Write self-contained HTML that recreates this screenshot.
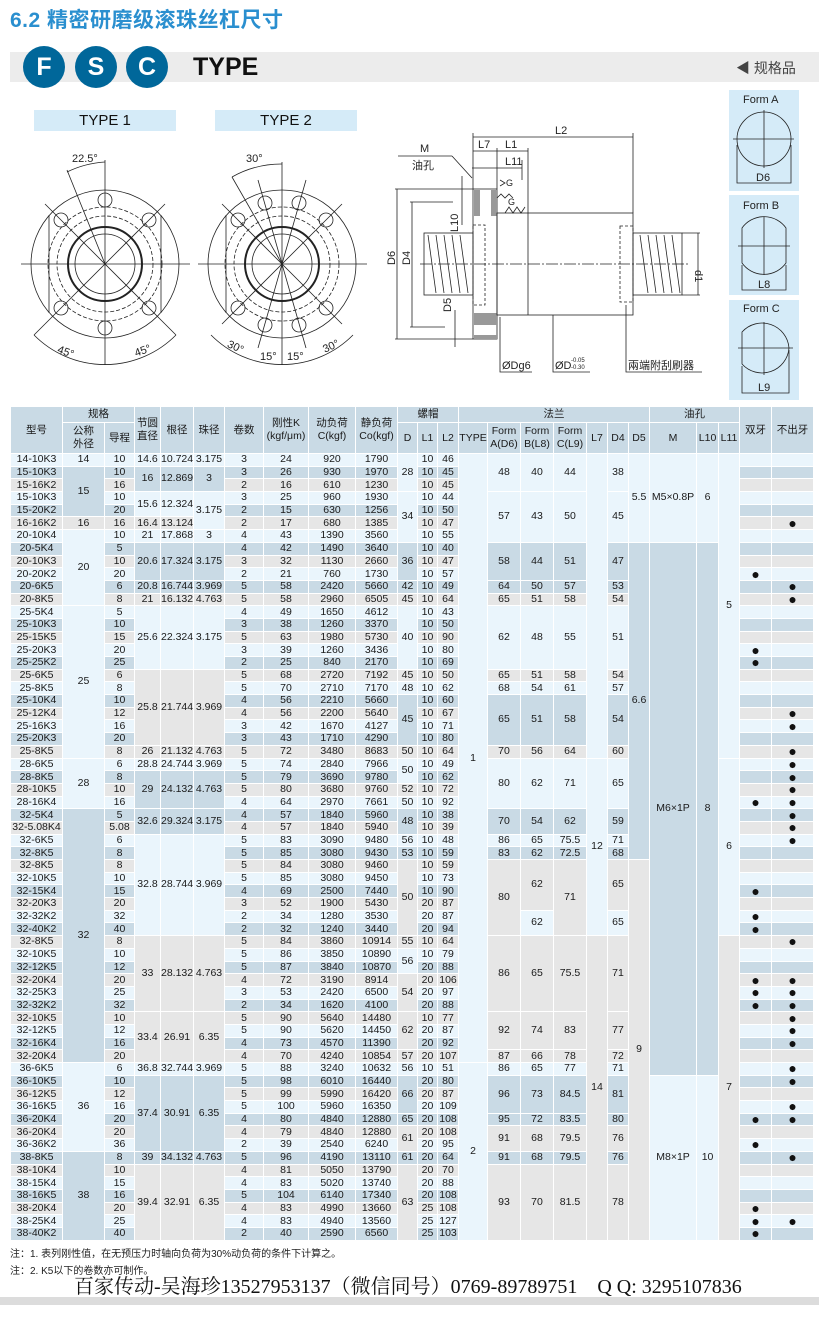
<!DOCTYPE html>
<html><head><meta charset="utf-8">
<style>
*{margin:0;padding:0;box-sizing:border-box}
body{width:819px;height:1322px;background:#fff;position:relative;overflow:hidden;font-family:"Liberation Sans","Noto Sans CJK SC",sans-serif;color:#222}
.abs{position:absolute}
#title{left:10px;top:4px;font-size:21px;font-weight:bold;color:#2a8fcf;letter-spacing:0.5px}
#bar{left:10px;top:52px;width:809px;height:30px;background:#ececec}
.cir{position:absolute;top:46px;width:42px;height:42px;border-radius:50%;background:#00679a;color:#fff;font-weight:bold;font-size:25px;text-align:center;line-height:42px}
#type{left:193px;top:53px;font-size:25px;font-weight:bold;color:#111}
#spec{left:736px;top:58px;font-size:14px;color:#444}
.tl{position:absolute;top:110px;width:142px;height:21px;background:#d5ebf8;text-align:center;font-size:15px;line-height:21px;color:#111}
table{position:absolute;left:10px;top:406px;width:803px;border-collapse:collapse;table-layout:fixed;font-family:"Liberation Sans Narrow","Liberation Sans","Noto Sans CJK SC",sans-serif;font-size:10.5px;color:#1a1a1a}
td,th{border:1px solid #fff;padding:0;text-align:center;vertical-align:middle;white-space:nowrap;overflow:hidden;line-height:11px}
th{background:#c9dae5;font-weight:normal;font-family:"Liberation Sans","Noto Sans CJK SC",sans-serif;font-size:10.5px;line-height:13px}
tbody tr{height:12.7px}
tr.a td{background:#eaf5fc}
tr.b td{background:#c9dae5}
tr.c td{background:#e6e6e6}
table td.L{background:#eaf5fc}
table td.B{background:#c9dae5}
table td.G{background:#e6e6e6}
td:nth-last-child(-n+2){font-size:14px;color:#111}
.note{left:10px;font-size:10px;color:#222}
#wm{left:74px;top:1270px;font-family:"Liberation Serif","Noto Serif CJK SC",serif;font-size:20px;color:#111;white-space:nowrap;transform:scaleX(1.0);transform-origin:left top}
#foot{left:0;top:1297px;width:819px;height:8px;background:#dcdcdc}
</style></head><body>
<div id="title" class="abs">6.2 精密研磨级滚珠丝杠尺寸</div>
<div id="bar" class="abs"></div>
<div class="cir" style="left:23px">F</div>
<div class="cir" style="left:75px">S</div>
<div class="cir" style="left:126px">C</div>
<div id="type" class="abs">TYPE</div>
<div id="spec" class="abs">◀ 规格品</div>
<div class="tl" style="left:34px">TYPE 1</div>
<div class="tl" style="left:215px">TYPE 2</div>

<svg class="abs" style="left:0;top:0" width="819" height="406" viewBox="0 0 819 406" font-family="Liberation Sans, Noto Sans CJK SC, sans-serif" font-size="11" fill="none" stroke="#222" stroke-width="0.8">
<g>
<circle cx="105" cy="264" r="74"/>
<circle cx="105" cy="264" r="57" stroke-dasharray="4 2"/>
<circle cx="105" cy="264" r="48" stroke-dasharray="4 2"/>
<circle cx="105" cy="264" r="37" stroke-width="2"/>
<circle cx="105" cy="264" r="30"/>
<circle cx="105" cy="200" r="7"/><circle cx="105" cy="328" r="7"/>
<circle cx="61" cy="220" r="7"/><circle cx="149" cy="220" r="7"/>
<circle cx="61" cy="308" r="7"/><circle cx="149" cy="308" r="7"/>
<line x1="49" y1="215" x2="49" y2="313"/><line x1="161" y1="215" x2="161" y2="313"/>
<line x1="21" y1="264" x2="190" y2="264"/><line x1="105" y1="160" x2="105" y2="365"/>
<line x1="45" y1="204" x2="165" y2="324"/><line x1="165" y1="204" x2="45" y2="324"/>
<line x1="105" y1="264" x2="67" y2="170"/>
<path d="M67 172 A100 100 0 0 1 105 162"/>
<path d="M34 335 A100 100 0 0 0 176 335"/>
<line x1="34" y1="335" x2="45" y2="324"/><line x1="176" y1="335" x2="165" y2="324"/>
</g>
<g>
<circle cx="282" cy="264" r="74"/>
<circle cx="282" cy="264" r="57" stroke-dasharray="4 2"/>
<circle cx="282" cy="264" r="48" stroke-dasharray="4 2"/>
<circle cx="282" cy="264" r="37" stroke-width="2"/>
<circle cx="282" cy="264" r="30"/>
<circle cx="265" cy="203" r="7"/><circle cx="299" cy="203" r="7"/>
<circle cx="265" cy="325" r="7"/><circle cx="299" cy="325" r="7"/>
<circle cx="238" cy="220" r="7"/><circle cx="326" cy="220" r="7"/>
<circle cx="238" cy="308" r="7"/><circle cx="326" cy="308" r="7"/>
<line x1="226" y1="215" x2="226" y2="313"/>
<line x1="198" y1="264" x2="367" y2="264"/><line x1="282" y1="162" x2="282" y2="365"/>
<line x1="222" y1="204" x2="342" y2="324"/><line x1="342" y1="204" x2="222" y2="324"/>
<line x1="258" y1="180" x2="306" y2="348"/><line x1="306" y1="180" x2="258" y2="348"/>
<line x1="282" y1="264" x2="232" y2="177"/>
<path d="M232 177 A100 100 0 0 1 282 164"/>
<path d="M211 335 A100 100 0 0 0 353 335"/>
</g>
<g fill="#222" stroke="none" font-size="11">
<text x="72" y="162">22.5°</text><text x="246" y="162">30°</text>
<text x="58" y="355" transform="rotate(20 65 350)">45°</text><text x="134" y="355" transform="rotate(-20 140 350)">45°</text>
<text x="228" y="350" transform="rotate(25 235 345)">30°</text><text x="260" y="360">15°</text><text x="287" y="360">15°</text><text x="322" y="350" transform="rotate(-25 330 345)">30°</text>
</g>
<g>
<rect x="473" y="189" width="24" height="150"/>
<rect x="474" y="190" width="6" height="26" fill="#999" stroke="none"/>
<rect x="491" y="190" width="6" height="26" fill="#999" stroke="none"/>
<rect x="474" y="313" width="23" height="12" fill="#999" stroke="none"/>
<rect x="474" y="335" width="23" height="4" fill="#999" stroke="none"/>
<rect x="497" y="213" width="136" height="102"/>
<line x1="528" y1="213" x2="528" y2="315"/>
<rect x="620" y="226" width="13" height="76" stroke-dasharray="3 2"/>
<rect x="473" y="225" width="12" height="80" stroke-dasharray="3 2"/>
<rect x="424" y="233" width="49" height="62"/>
<rect x="633" y="233" width="49" height="62"/>
<path d="M428 235 l8 58 M436 235 l8 58 M444 235 l8 58 M452 235 l8 58 M460 235 l8 58 M640 235 l8 58 M648 235 l8 58 M656 235 l8 58 M664 235 l8 58 M672 235 l8 58"/>
<line x1="420" y1="264" x2="690" y2="264" stroke-dasharray="12 2 2 2"/>
<line x1="473" y1="137" x2="633" y2="137"/><line x1="473" y1="133" x2="473" y2="189"/><line x1="633" y1="133" x2="633" y2="213"/>
<line x1="473" y1="151" x2="528" y2="151"/><line x1="497" y1="148" x2="497" y2="189"/><line x1="528" y1="148" x2="528" y2="213"/>
<line x1="472" y1="168" x2="522" y2="168"/><line x1="522" y1="160" x2="522" y2="180"/>
<line x1="397" y1="189" x2="397" y2="339"/><line x1="395" y1="189" x2="473" y2="189"/><line x1="395" y1="339" x2="473" y2="339"/>
<line x1="412" y1="202" x2="412" y2="327"/><line x1="410" y1="202" x2="453" y2="202"/><line x1="410" y1="327" x2="445" y2="327"/>
<line x1="698" y1="233" x2="698" y2="295"/><line x1="682" y1="233" x2="700" y2="233"/><line x1="682" y1="295" x2="700" y2="295"/>
<line x1="462" y1="176" x2="462" y2="225"/>
<line x1="455" y1="310" x2="455" y2="347"/>
<line x1="398" y1="156" x2="452" y2="156"/><line x1="452" y1="156" x2="472" y2="178"/>
<path d="M500 317 V372 H532 M553 315 V372 H590 M626 305 V372 H702"/>
<path d="M497 198 l4 -4 l4 4 l4 -4 l4 4 M500 180 l5 3 l-5 3 M505 213 l4 -6 l4 6 l4 -6 l4 6 l4 -6"/>
</g>
<g fill="#222" stroke="none" font-size="11">
<text x="555" y="134">L2</text><text x="478" y="148">L7</text><text x="505" y="148">L1</text><text x="505" y="165">L11</text>
<text x="420" y="152">M</text><text x="412" y="169">油孔</text>
<text x="506" y="186" font-size="9">G</text><text x="508" y="205" font-size="9">G</text>
<text transform="translate(395 265) rotate(-90)">D6</text><text transform="translate(410 265) rotate(-90)">D4</text>
<text transform="translate(458 232) rotate(-90)">L10</text><text transform="translate(451 312) rotate(-90)">D5</text>
<text transform="translate(695 270) rotate(90)">d1</text>
<text x="502" y="369">ØDg6</text><text x="555" y="369">ØD</text><text x="571" y="362" font-size="6">-0.05</text><text x="571" y="369" font-size="6">-0.30</text>
<text x="628" y="369">兩端附刮刷器</text>
</g>
<rect x="729" y="90" width="70" height="101" fill="#d5ebf8" stroke="none"/>
<rect x="729" y="195" width="70" height="100" fill="#d5ebf8" stroke="none"/>
<rect x="729" y="300" width="70" height="100" fill="#d5ebf8" stroke="none"/>
<g>
<circle cx="764" cy="139" r="27"/><line x1="733" y1="139" x2="794" y2="139"/><line x1="764" y1="110" x2="764" y2="168"/>
<path d="M737 145 V183 H791 V145"/>
<path d="M742 228 A27 27 0 0 1 786 228 V263 A27 27 0 0 1 742 263 Z"/><line x1="738" y1="246" x2="790" y2="246"/><line x1="764" y1="217" x2="764" y2="275"/>
<path d="M742 265 V290 H786 V265"/>
<path d="M742 332 A27 27 0 0 1 789 348 A27 27 0 0 1 742 364 Z"/><line x1="738" y1="348" x2="793" y2="348"/><line x1="764" y1="322" x2="764" y2="375"/>
<path d="M742 366 V393 H789 V350"/>
</g>
<g fill="#222" stroke="none" font-size="11">
<text x="743" y="103">Form A</text><text x="756" y="181">D6</text>
<text x="743" y="209">Form B</text><text x="758" y="288">L8</text>
<text x="743" y="312">Form C</text><text x="758" y="391">L9</text>
</g>
</svg>

<table>
<colgroup><col style="width:52px"><col style="width:42px"><col style="width:30px"><col style="width:26px"><col style="width:33px"><col style="width:31px"><col style="width:39px"><col style="width:45px"><col style="width:47px"><col style="width:42px"><col style="width:20px"><col style="width:20px"><col style="width:21px"><col style="width:29px"><col style="width:33px"><col style="width:33px"><col style="width:33px"><col style="width:21px"><col style="width:21px"><col style="width:21px"><col style="width:47px"><col style="width:22px"><col style="width:21px"><col style="width:32px"><col style="width:42px"></colgroup>
<thead>
<tr style="height:16px"><th rowspan="2">型号</th><th colspan="2">规格</th><th rowspan="2">节圆<br>直径</th><th rowspan="2">根径</th><th rowspan="2">珠径</th><th rowspan="2">卷数</th><th rowspan="2">刚性K<br>(kgf/μm)</th><th rowspan="2">动负荷<br>C(kgf)</th><th rowspan="2">静负荷<br>Co(kgf)</th><th colspan="3">螺帽</th><th colspan="7">法兰</th><th colspan="3">油孔</th><th rowspan="2">双牙</th><th rowspan="2">不出牙</th></tr>
<tr style="height:31px"><th>公称<br>外径</th><th>导程</th><th>D</th><th>L1</th><th>L2</th><th>TYPE</th><th>Form<br>A(D6)</th><th>Form<br>B(L8)</th><th>Form<br>C(L9)</th><th>L7</th><th>D4</th><th>D5</th><th>M</th><th>L10</th><th>L11</th></tr>
</thead>
<tbody>
<tr class="a"><td>14-10K3</td><td>14</td><td>10</td><td>14.6</td><td>10.724</td><td>3.175</td><td>3</td><td>24</td><td>920</td><td>1790</td><td class="L" rowspan="3">28</td><td>10</td><td>46</td><td class="L" rowspan="48">1</td><td class="L" rowspan="3">48</td><td class="L" rowspan="3">40</td><td class="L" rowspan="3">44</td><td class="L" rowspan="24"></td><td class="L" rowspan="3">38</td><td class="L" rowspan="7">5.5</td><td class="L" rowspan="7">M5×0.8P</td><td class="L" rowspan="7">6</td><td class="L" rowspan="24">5</td><td></td><td></td></tr>
<tr class="b"><td>15-10K3</td><td class="B" rowspan="4">15</td><td>10</td><td class="B" rowspan="2">16</td><td class="B" rowspan="2">12.869</td><td class="B" rowspan="2">3</td><td>3</td><td>26</td><td>930</td><td>1970</td><td>10</td><td>45</td><td></td><td></td></tr>
<tr class="c"><td>15-16K2</td><td>16</td><td>2</td><td>16</td><td>610</td><td>1230</td><td>10</td><td>45</td><td></td><td></td></tr>
<tr class="a"><td>15-10K3</td><td>10</td><td class="L" rowspan="2">15.6</td><td class="L" rowspan="2">12.324</td><td class="L" rowspan="3">3.175</td><td>3</td><td>25</td><td>960</td><td>1930</td><td class="L" rowspan="4">34</td><td>10</td><td>44</td><td class="L" rowspan="4">57</td><td class="L" rowspan="4">43</td><td class="L" rowspan="4">50</td><td class="L" rowspan="4">45</td><td></td><td></td></tr>
<tr class="b"><td>15-20K2</td><td>20</td><td>2</td><td>15</td><td>630</td><td>1256</td><td>10</td><td>50</td><td></td><td></td></tr>
<tr class="c"><td>16-16K2</td><td>16</td><td>16</td><td>16.4</td><td>13.124</td><td>2</td><td>17</td><td>680</td><td>1385</td><td>10</td><td>47</td><td></td><td>●</td></tr>
<tr class="a"><td>20-10K4</td><td class="L" rowspan="6">20</td><td>10</td><td>21</td><td>17.868</td><td>3</td><td>4</td><td>43</td><td>1390</td><td>3560</td><td>10</td><td>55</td><td></td><td></td></tr>
<tr class="b"><td>20-5K4</td><td>5</td><td class="B" rowspan="3">20.6</td><td class="B" rowspan="3">17.324</td><td class="B" rowspan="3">3.175</td><td>4</td><td>42</td><td>1490</td><td>3640</td><td class="B" rowspan="3">36</td><td>10</td><td>40</td><td class="B" rowspan="3">58</td><td class="B" rowspan="3">44</td><td class="B" rowspan="3">51</td><td class="B" rowspan="3">47</td><td class="B" rowspan="25">6.6</td><td class="B" rowspan="42">M6×1P</td><td class="B" rowspan="42">8</td><td></td><td></td></tr>
<tr class="c"><td>20-10K3</td><td>10</td><td>3</td><td>32</td><td>1130</td><td>2660</td><td>10</td><td>47</td><td></td><td></td></tr>
<tr class="a"><td>20-20K2</td><td>20</td><td>2</td><td>21</td><td>760</td><td>1730</td><td>10</td><td>57</td><td>●</td><td></td></tr>
<tr class="b"><td>20-6K5</td><td>6</td><td>20.8</td><td>16.744</td><td>3.969</td><td>5</td><td>58</td><td>2420</td><td>5660</td><td>42</td><td>10</td><td>49</td><td>64</td><td>50</td><td>57</td><td>53</td><td></td><td>●</td></tr>
<tr class="c"><td>20-8K5</td><td>8</td><td>21</td><td>16.132</td><td>4.763</td><td>5</td><td>58</td><td>2960</td><td>6505</td><td>45</td><td>10</td><td>64</td><td>65</td><td>51</td><td>58</td><td>54</td><td></td><td>●</td></tr>
<tr class="a"><td>25-5K4</td><td class="L" rowspan="12">25</td><td>5</td><td class="L" rowspan="5">25.6</td><td class="L" rowspan="5">22.324</td><td class="L" rowspan="5">3.175</td><td>4</td><td>49</td><td>1650</td><td>4612</td><td class="L" rowspan="5">40</td><td>10</td><td>43</td><td class="L" rowspan="5">62</td><td class="L" rowspan="5">48</td><td class="L" rowspan="5">55</td><td class="L" rowspan="5">51</td><td></td><td></td></tr>
<tr class="b"><td>25-10K3</td><td>10</td><td>3</td><td>38</td><td>1260</td><td>3370</td><td>10</td><td>50</td><td></td><td></td></tr>
<tr class="c"><td>25-15K5</td><td>15</td><td>5</td><td>63</td><td>1980</td><td>5730</td><td>10</td><td>90</td><td></td><td></td></tr>
<tr class="a"><td>25-20K3</td><td>20</td><td>3</td><td>39</td><td>1260</td><td>3436</td><td>10</td><td>80</td><td>●</td><td></td></tr>
<tr class="b"><td>25-25K2</td><td>25</td><td>2</td><td>25</td><td>840</td><td>2170</td><td>10</td><td>69</td><td>●</td><td></td></tr>
<tr class="c"><td>25-6K5</td><td>6</td><td class="G" rowspan="6">25.8</td><td class="G" rowspan="6">21.744</td><td class="G" rowspan="6">3.969</td><td>5</td><td>68</td><td>2720</td><td>7192</td><td>45</td><td>10</td><td>50</td><td>65</td><td>51</td><td>58</td><td>54</td><td></td><td></td></tr>
<tr class="a"><td>25-8K5</td><td>8</td><td>5</td><td>70</td><td>2710</td><td>7170</td><td>48</td><td>10</td><td>62</td><td>68</td><td>54</td><td>61</td><td>57</td><td></td><td></td></tr>
<tr class="b"><td>25-10K4</td><td>10</td><td>4</td><td>56</td><td>2210</td><td>5660</td><td class="B" rowspan="4">45</td><td>10</td><td>60</td><td class="B" rowspan="4">65</td><td class="B" rowspan="4">51</td><td class="B" rowspan="4">58</td><td class="B" rowspan="4">54</td><td></td><td></td></tr>
<tr class="c"><td>25-12K4</td><td>12</td><td>4</td><td>56</td><td>2200</td><td>5640</td><td>10</td><td>67</td><td></td><td>●</td></tr>
<tr class="a"><td>25-16K3</td><td>16</td><td>3</td><td>42</td><td>1670</td><td>4127</td><td>10</td><td>71</td><td></td><td>●</td></tr>
<tr class="b"><td>25-20K3</td><td>20</td><td>3</td><td>43</td><td>1710</td><td>4290</td><td>10</td><td>80</td><td></td><td></td></tr>
<tr class="c"><td>25-8K5</td><td>8</td><td>26</td><td>21.132</td><td>4.763</td><td>5</td><td>72</td><td>3480</td><td>8683</td><td>50</td><td>10</td><td>64</td><td>70</td><td>56</td><td>64</td><td>60</td><td></td><td>●</td></tr>
<tr class="a"><td>28-6K5</td><td class="L" rowspan="4">28</td><td>6</td><td>28.8</td><td>24.744</td><td>3.969</td><td>5</td><td>74</td><td>2840</td><td>7966</td><td class="L" rowspan="2">50</td><td>10</td><td>49</td><td class="L" rowspan="4">80</td><td class="L" rowspan="4">62</td><td class="L" rowspan="4">71</td><td class="L" rowspan="14">12</td><td class="L" rowspan="4">65</td><td class="L" rowspan="14">6</td><td></td><td>●</td></tr>
<tr class="b"><td>28-8K5</td><td>8</td><td class="B" rowspan="3">29</td><td class="B" rowspan="3">24.132</td><td class="B" rowspan="3">4.763</td><td>5</td><td>79</td><td>3690</td><td>9780</td><td>10</td><td>62</td><td></td><td>●</td></tr>
<tr class="c"><td>28-10K5</td><td>10</td><td>5</td><td>80</td><td>3680</td><td>9760</td><td>52</td><td>10</td><td>72</td><td></td><td>●</td></tr>
<tr class="a"><td>28-16K4</td><td>16</td><td>4</td><td>64</td><td>2970</td><td>7661</td><td>50</td><td>10</td><td>92</td><td>●</td><td>●</td></tr>
<tr class="b"><td>32-5K4</td><td class="B" rowspan="20">32</td><td>5</td><td class="B" rowspan="2">32.6</td><td class="B" rowspan="2">29.324</td><td class="B" rowspan="2">3.175</td><td>4</td><td>57</td><td>1840</td><td>5960</td><td class="B" rowspan="2">48</td><td>10</td><td>38</td><td class="B" rowspan="2">70</td><td class="B" rowspan="2">54</td><td class="B" rowspan="2">62</td><td class="B" rowspan="2">59</td><td></td><td>●</td></tr>
<tr class="c"><td>32-5.08K4</td><td>5.08</td><td>4</td><td>57</td><td>1840</td><td>5940</td><td>10</td><td>39</td><td></td><td>●</td></tr>
<tr class="a"><td>32-6K5</td><td>6</td><td class="L" rowspan="8">32.8</td><td class="L" rowspan="8">28.744</td><td class="L" rowspan="8">3.969</td><td>5</td><td>83</td><td>3090</td><td>9480</td><td>56</td><td>10</td><td>48</td><td>86</td><td>65</td><td>75.5</td><td>71</td><td></td><td>●</td></tr>
<tr class="b"><td>32-8K5</td><td>8</td><td>5</td><td>85</td><td>3080</td><td>9430</td><td>53</td><td>10</td><td>59</td><td>83</td><td>62</td><td>72.5</td><td>68</td><td></td><td></td></tr>
<tr class="c"><td>32-8K5</td><td>8</td><td>5</td><td>84</td><td>3080</td><td>9460</td><td class="G" rowspan="6">50</td><td>10</td><td>59</td><td class="G" rowspan="6">80</td><td class="G" rowspan="4">62</td><td class="G" rowspan="6">71</td><td class="G" rowspan="4">65</td><td class="G" rowspan="30">9</td><td></td><td></td></tr>
<tr class="a"><td>32-10K5</td><td>10</td><td>5</td><td>85</td><td>3080</td><td>9450</td><td>10</td><td>73</td><td></td><td></td></tr>
<tr class="b"><td>32-15K4</td><td>15</td><td>4</td><td>69</td><td>2500</td><td>7440</td><td>10</td><td>90</td><td>●</td><td></td></tr>
<tr class="c"><td>32-20K3</td><td>20</td><td>3</td><td>52</td><td>1900</td><td>5430</td><td>20</td><td>87</td><td></td><td></td></tr>
<tr class="a"><td>32-32K2</td><td>32</td><td>2</td><td>34</td><td>1280</td><td>3530</td><td>20</td><td>87</td><td class="L" rowspan="2">62</td><td class="L" rowspan="2">65</td><td>●</td><td></td></tr>
<tr class="b"><td>32-40K2</td><td>40</td><td>2</td><td>32</td><td>1240</td><td>3440</td><td>20</td><td>94</td><td>●</td><td></td></tr>
<tr class="c"><td>32-8K5</td><td>8</td><td class="G" rowspan="6">33</td><td class="G" rowspan="6">28.132</td><td class="G" rowspan="6">4.763</td><td>5</td><td>84</td><td>3860</td><td>10914</td><td>55</td><td>10</td><td>64</td><td class="G" rowspan="6">86</td><td class="G" rowspan="6">65</td><td class="G" rowspan="6">75.5</td><td class="G" rowspan="24">14</td><td class="G" rowspan="6">71</td><td class="G" rowspan="24">7</td><td></td><td>●</td></tr>
<tr class="a"><td>32-10K5</td><td>10</td><td>5</td><td>86</td><td>3850</td><td>10890</td><td class="L" rowspan="2">56</td><td>10</td><td>79</td><td></td><td></td></tr>
<tr class="b"><td>32-12K5</td><td>12</td><td>5</td><td>87</td><td>3840</td><td>10870</td><td>20</td><td>88</td><td></td><td></td></tr>
<tr class="c"><td>32-20K4</td><td>20</td><td>4</td><td>72</td><td>3190</td><td>8914</td><td class="G" rowspan="3">54</td><td>20</td><td>106</td><td>●</td><td>●</td></tr>
<tr class="a"><td>32-25K3</td><td>25</td><td>3</td><td>53</td><td>2420</td><td>6500</td><td>20</td><td>97</td><td>●</td><td>●</td></tr>
<tr class="b"><td>32-32K2</td><td>32</td><td>2</td><td>34</td><td>1620</td><td>4100</td><td>20</td><td>88</td><td>●</td><td>●</td></tr>
<tr class="c"><td>32-10K5</td><td>10</td><td class="G" rowspan="4">33.4</td><td class="G" rowspan="4">26.91</td><td class="G" rowspan="4">6.35</td><td>5</td><td>90</td><td>5640</td><td>14480</td><td class="G" rowspan="3">62</td><td>10</td><td>77</td><td class="G" rowspan="3">92</td><td class="G" rowspan="3">74</td><td class="G" rowspan="3">83</td><td class="G" rowspan="3">77</td><td></td><td>●</td></tr>
<tr class="a"><td>32-12K5</td><td>12</td><td>5</td><td>90</td><td>5620</td><td>14450</td><td>20</td><td>87</td><td></td><td>●</td></tr>
<tr class="b"><td>32-16K4</td><td>16</td><td>4</td><td>73</td><td>4570</td><td>11390</td><td>20</td><td>92</td><td></td><td>●</td></tr>
<tr class="c"><td>32-20K4</td><td>20</td><td>4</td><td>70</td><td>4240</td><td>10854</td><td>57</td><td>20</td><td>107</td><td>87</td><td>66</td><td>78</td><td>72</td><td></td><td></td></tr>
<tr class="a"><td>36-6K5</td><td class="L" rowspan="7">36</td><td>6</td><td>36.8</td><td>32.744</td><td>3.969</td><td>5</td><td>88</td><td>3240</td><td>10632</td><td>56</td><td>10</td><td>51</td><td class="L" rowspan="14">2</td><td>86</td><td>65</td><td>77</td><td>71</td><td></td><td>●</td></tr>
<tr class="b"><td>36-10K5</td><td>10</td><td class="B" rowspan="6">37.4</td><td class="B" rowspan="6">30.91</td><td class="B" rowspan="6">6.35</td><td>5</td><td>98</td><td>6010</td><td>16440</td><td class="B" rowspan="3">66</td><td>20</td><td>80</td><td class="B" rowspan="3">96</td><td class="B" rowspan="3">73</td><td class="B" rowspan="3">84.5</td><td class="B" rowspan="3">81</td><td class="L" rowspan="13">M8×1P</td><td class="L" rowspan="13">10</td><td></td><td>●</td></tr>
<tr class="c"><td>36-12K5</td><td>12</td><td>5</td><td>99</td><td>5990</td><td>16420</td><td>20</td><td>87</td><td></td><td></td></tr>
<tr class="a"><td>36-16K5</td><td>16</td><td>5</td><td>100</td><td>5960</td><td>16350</td><td>20</td><td>109</td><td></td><td>●</td></tr>
<tr class="b"><td>36-20K4</td><td>20</td><td>4</td><td>80</td><td>4840</td><td>12880</td><td>65</td><td>20</td><td>108</td><td>95</td><td>72</td><td>83.5</td><td>80</td><td>●</td><td>●</td></tr>
<tr class="c"><td>36-20K4</td><td>20</td><td>4</td><td>79</td><td>4840</td><td>12880</td><td class="G" rowspan="2">61</td><td>20</td><td>108</td><td class="G" rowspan="2">91</td><td class="G" rowspan="2">68</td><td class="G" rowspan="2">79.5</td><td class="G" rowspan="2">76</td><td></td><td></td></tr>
<tr class="a"><td>36-36K2</td><td>36</td><td>2</td><td>39</td><td>2540</td><td>6240</td><td>20</td><td>95</td><td>●</td><td></td></tr>
<tr class="b"><td>38-8K5</td><td class="B" rowspan="7">38</td><td>8</td><td>39</td><td>34.132</td><td>4.763</td><td>5</td><td>96</td><td>4190</td><td>13110</td><td>61</td><td>20</td><td>64</td><td>91</td><td>68</td><td>79.5</td><td>76</td><td></td><td>●</td></tr>
<tr class="c"><td>38-10K4</td><td>10</td><td class="G" rowspan="6">39.4</td><td class="G" rowspan="6">32.91</td><td class="G" rowspan="6">6.35</td><td>4</td><td>81</td><td>5050</td><td>13790</td><td class="G" rowspan="6">63</td><td>20</td><td>70</td><td class="G" rowspan="6">93</td><td class="G" rowspan="6">70</td><td class="G" rowspan="6">81.5</td><td class="G" rowspan="6">78</td><td></td><td></td></tr>
<tr class="a"><td>38-15K4</td><td>15</td><td>4</td><td>83</td><td>5020</td><td>13740</td><td>20</td><td>88</td><td></td><td></td></tr>
<tr class="b"><td>38-16K5</td><td>16</td><td>5</td><td>104</td><td>6140</td><td>17340</td><td>20</td><td>108</td><td></td><td></td></tr>
<tr class="c"><td>38-20K4</td><td>20</td><td>4</td><td>83</td><td>4990</td><td>13660</td><td>25</td><td>108</td><td>●</td><td></td></tr>
<tr class="a"><td>38-25K4</td><td>25</td><td>4</td><td>83</td><td>4940</td><td>13560</td><td>25</td><td>127</td><td>●</td><td>●</td></tr>
<tr class="b"><td>38-40K2</td><td>40</td><td>2</td><td>40</td><td>2590</td><td>6560</td><td>25</td><td>103</td><td>●</td><td></td></tr>
</tbody>
</table>

<div class="abs note" style="top:1245px">注：1. 表列刚性值，在无预压力时轴向负荷为30%动负荷的条件下计算之。</div>
<div class="abs note" style="top:1262px">注：2. K5以下的卷数亦可制作。</div>
<div id="wm" class="abs">百家传动-吴海珍13527953137（微信同号）0769-89789751　Q Q: 3295107836</div>
<div id="foot" class="abs"></div>
</body></html>
